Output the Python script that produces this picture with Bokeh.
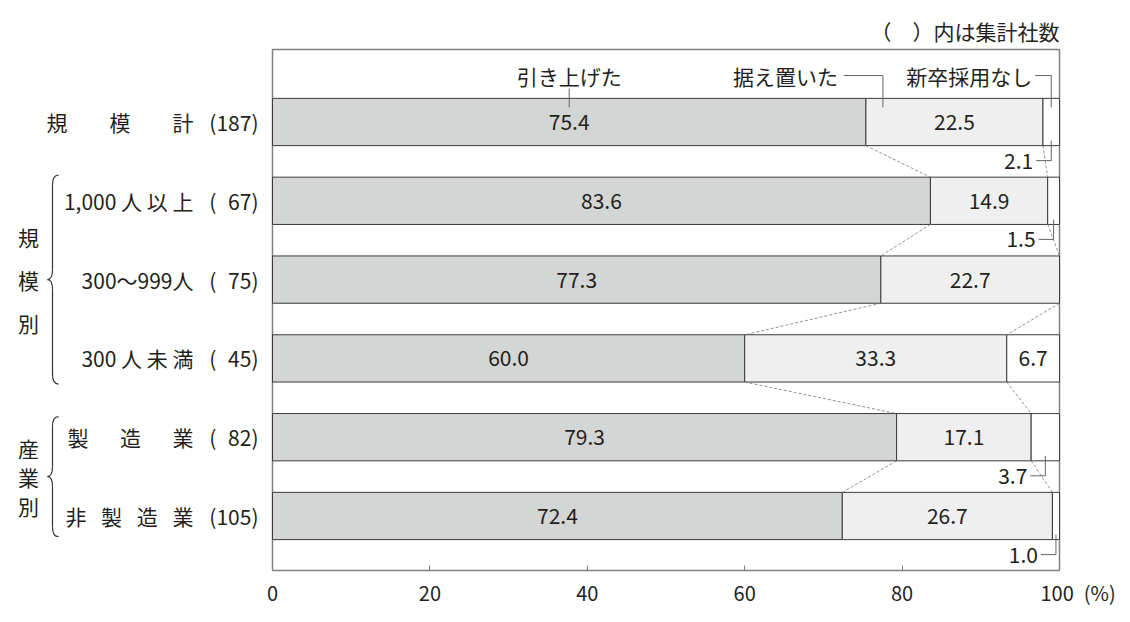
from bokeh.plotting import figure
from bokeh.models import Range1d, FixedTicker
from bokeh.core.properties import value
from bokeh.embed import file_html
from bokeh.resources import INLINE

# data (%)
categories = ["規　　模　　計", "1,000 人 以 上", "300〜999人", "300 人 未 満",
              "製\u3000\u2002造\u3000\u2002業", "非\u2002\u2009製\u2002\u2009造\u2002\u2009業"]
counts = [187, 67, 75, 45, 82, 105]
raised = [75.4, 83.6, 77.3, 60.0, 79.3, 72.4]
kept = [22.5, 14.9, 22.7, 33.3, 17.1, 26.7]
no_hire = [2.1, 1.5, 0.0, 6.7, 3.7, 1.0]
series = ["引き上げた", "据え置いた", "新卒採用なし"]
groups = [("規模別", 1, 3), ("産業別", 4, 5)]
ticks = [0, 20, 40, 60, 80, 100]
note = "（　）内は集計社数"

FONT = "Noto Sans CJK JP"
TXT = "#231f20"
W, H = 1128, 620
LEFT = 272      # frame left, px
BOTTOM = 570    # frame bottom, px
ROW0 = 121.5    # first row centre, px
PX = 7.87       # px per percent
PY = 78.8       # px per row
BAR_H = 0.6


def dx(px):
    return px / PX


def dy(px):
    return px / PY


rows = list(range(len(categories)))
kept_end = [min(r + k, 100) for r, k in zip(raised, kept)]

p = figure(width=W, height=H, title=None,
           x_range=Range1d(-LEFT / PX, (W - LEFT) / PX),
           y_range=Range1d((BOTTOM - ROW0) / PY, -ROW0 / PY),
           y_axis_location=None, output_backend="svg", toolbar_location=None,
           min_border_left=0, min_border_right=0, min_border_top=0,
           min_border_bottom=H - BOTTOM)
p.outline_line_color = None
p.grid.visible = False

ax = p.xaxis[0]
ax.ticker = FixedTicker(ticks=ticks)
ax.bounds = (0, 100)
ax.axis_line_color = "#808080"
ax.axis_line_width = 1.5
ax.major_tick_line_color = "#808080"
ax.major_tick_in = 5
ax.major_tick_out = 0
ax.minor_tick_line_color = None
ax.major_label_standoff = 7
ax.major_label_text_font = FONT
ax.major_label_text_font_size = "20px"
ax.major_label_text_color = TXT
ax.major_label_text_font_style = "normal"
# keep "100" centred on its tick while "(%)" trails after it
ax.major_label_overrides = {100: "\u2007\u2007\u2007\u2009100\u2002(%)"}

frame_top = -dy(72.5)
frame_bot = (BOTTOM - ROW0) / PY
p.multi_line([[0, 0, 100, 100]], [[frame_bot, frame_top, frame_top, frame_bot]],
             line_color="#808080", line_width=1.5)

# stacked bars
bar_kw = dict(height=BAR_H, line_color="#3a3a3a", line_width=1)
p.hbar(y=rows, left=0, right=raised, fill_color="#d4d5d5", **bar_kw)
p.hbar(y=rows, left=raised, right=kept_end, fill_color="#efefef", **bar_kw)
p.hbar(y=rows, left=kept_end, right=100, fill_color="#ffffff", **bar_kw)

# dashed connectors between bars
n = len(rows)
for ends in (raised, kept_end):
    p.segment(x0=ends[:-1], y0=[r + BAR_H / 2 for r in rows[:-1]],
              x1=ends[1:], y1=[r - BAR_H / 2 for r in rows[1:]],
              line_color="#777777", line_width=0.8, line_dash="3 2")

txt_kw = dict(text_font=value(FONT), text_font_size="21px", text_color=TXT,
              text_baseline="middle")

# values inside bars
p.text(x=[r / 2 for r in raised], y=rows, text=[f"{v:.1f}" for v in raised],
       text_align="center", **txt_kw)
p.text(x=[(r + e) / 2 for r, e in zip(raised, kept_end)], y=rows,
       text=[f"{v:.1f}" for v in kept], text_align="center", **txt_kw)

in_x, in_y, in_t = [], [], []
out_x, out_y, out_t = [], [], []
lead_xs, lead_ys = [], []
for i, v in enumerate(no_hire):
    if v <= 0:
        continue
    cx = (kept_end[i] + 100) / 2
    if v >= 5:
        in_x.append(cx)
        in_y.append(i)
        in_t.append(f"{v:.1f}")
    else:
        ly = i + 0.49
        lead_xs.append([cx - dx(15), cx, cx])
        lead_ys.append([ly, ly, i + BAR_H / 2 - dy(5)])
        out_x.append(cx - dx(18))
        out_y.append(ly)
        out_t.append(f"{v:.1f}")
p.text(x=in_x, y=in_y, text=in_t, text_align="center", **txt_kw)
p.text(x=out_x, y=out_y, text=out_t, text_align="right", **txt_kw)

# series headers with leaders
hy = -dy(46.5)
into_bar = -BAR_H / 2 + dy(9)
x1 = raised[0] / 2
x2 = raised[0] + dx(17)
x3 = (kept_end[0] + 100) / 2
lead_xs += [[x1, x1], [x2 - dx(39), x2, x2], [x3 - dx(16), x3, x3]]
lead_ys += [[hy + dy(13), into_bar], [hy, hy, into_bar], [hy, hy, into_bar]]
p.multi_line(lead_xs, lead_ys, line_color="#666666", line_width=1)
p.text(x=[x1, x2 - dx(45), x3 - dx(19)], y=[hy, hy, hy], text=series,
       text_align=["center", "right", "right"], **txt_kw)

# note
p.text(x=[100], y=[-dy(91.5)], text=[note], text_align="right", **txt_kw)

# category labels
p.text(x=[0] * n, y=rows, text=categories, x_offset=-79, text_align="right", **txt_kw)
p.text(x=[0] * n, y=rows, text=[f"({str(c).rjust(3, chr(0x2007))})" for c in counts],
       x_offset=-14, text_align="right", **txt_kw)

# group labels and braces
spacing_px = [43, 29]
pad_px = [25, 20]
bx = dx(52 - LEFT)
gx, gy, gt = [], [], []
qx0, qy0, qx1, qy1, qcx, qcy = [], [], [], [], [], []
sx0, sy0, sx1, sy1 = [], [], [], []
r_ = dy(10)
for (name, a, b), sp, pad in zip(groups, spacing_px, pad_px):
    mid = (a + b) / 2
    for k, ch in enumerate(name):
        gx.append(0)
        gy.append(mid + (k - 1) * dy(sp))
        gt.append(ch)
    top = a - BAR_H / 2 - dy(pad - 23)
    bot = b + BAR_H / 2 + dy(pad - 23)
    qx0 += [bx + dx(6), bx, bx, bx]
    qy0 += [top, mid - r_, mid + r_, bot - r_]
    qx1 += [bx, bx - dx(5), bx - dx(5), bx + dx(6)]
    qy1 += [top + r_, mid, mid, bot]
    qcx += [bx, bx, bx, bx]
    qcy += [top, mid, mid, bot]
    sx0 += [bx, bx]
    sy0 += [top + r_, mid + r_]
    sx1 += [bx, bx]
    sy1 += [mid - r_, bot - r_]
p.quadratic(x0=qx0, y0=qy0, x1=qx1, y1=qy1, cx=qcx, cy=qcy, line_color="#333333", line_width=1.2)
p.segment(x0=sx0, y0=sy0, x1=sx1, y1=sy1, line_color="#333333", line_width=1.2)
p.text(x=gx, y=gy, text=gt, x_offset=-244, text_align="center", **txt_kw)

open("out.html", "w").write(file_html(p, INLINE))
